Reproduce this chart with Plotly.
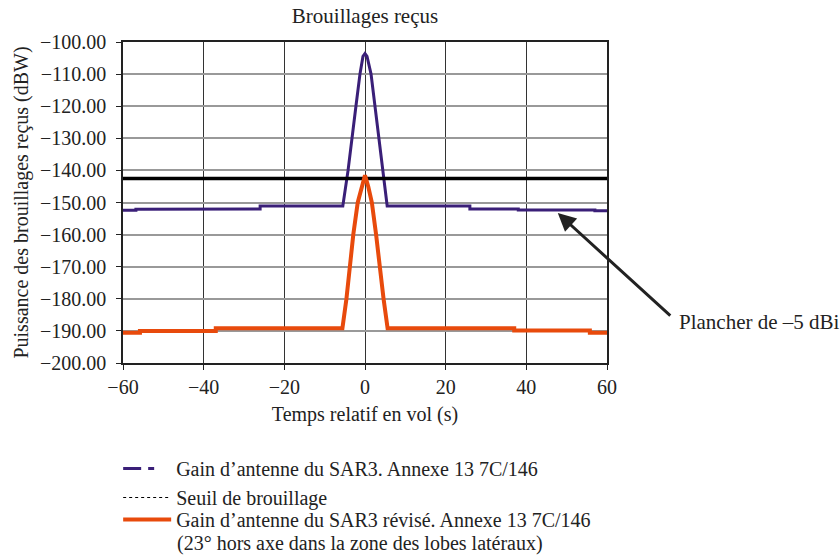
import plotly.graph_objects as go

# ---- data ----
sar3_t = [-60, -56.8, -56.8, -38, -38, -26, -26, -5.5, -4.2, -3.3, -2.25, -1.25, -0.5, 0,
          0.5, 1.5, 2.5, 3.5, 4.5, 5.5, 26, 26, 38, 38, 57, 57, 60]
sar3_p = [-152.4, -152.4, -152.1, -152.1, -152.0, -152.0, -151.1, -151.1, -140, -130, -120,
          -110, -104.5, -103.6, -104.5, -110, -120, -130, -140, -151.1, -151.1, -152.0,
          -152.0, -152.3, -152.3, -152.6, -152.6]

seuil_t = [-60, 60]
seuil_p = [-142.5, -142.5]

rev_t = [-60, -55.8, -55.8, -37, -37, -5.6, -4.6, -3.75, -2.9, -1.8, -0.8, 0, 0.8, 1.7,
         2.75, 3.6, 4.6, 5.6, 37, 37, 55.75, 55.75, 60]
rev_p = [-190.6, -190.6, -190.05, -190.05, -189.2, -189.2, -180, -170, -160, -150, -145,
         -141.5, -145, -150, -160, -170, -180, -189.2, -189.2, -189.85, -189.85, -190.6, -190.6]

x_ticks = [-60, -40, -20, 0, 20, 40, 60]
y_ticks = [-200, -190, -180, -170, -160, -150, -140, -130, -120, -110, -100]

names = ["Gain d’antenne du SAR3. Annexe 13 7C/146",
         "Seuil de brouillage",
         "Gain d’antenne du SAR3 révisé. Annexe 13 7C/146"]
name3_line2 = "(23° hors axe dans la zone des lobes latéraux)"

PURPLE = "#3a1f78"
ORANGE = "#e84a0c"
FONT = "Liberation Serif, Times New Roman, serif"
INK = "#222"

fig = go.Figure()
# plotted curves
fig.add_trace(go.Scatter(x=sar3_t, y=sar3_p, mode="lines", showlegend=False,
                         line=dict(color=PURPLE, width=3)))
fig.add_trace(go.Scatter(x=seuil_t, y=seuil_p, mode="lines", showlegend=False,
                         line=dict(color="black", width=3.5)))
fig.add_trace(go.Scatter(x=rev_t, y=rev_p, mode="lines", showlegend=False,
                         line=dict(color=ORANGE, width=4)))
# legend entries
fig.add_trace(go.Scatter(x=[None], y=[None], mode="lines", name=names[0], legend="legend",
                         line=dict(color=PURPLE, width=3, dash="18px,7px,6px")))
fig.add_trace(go.Scatter(x=[None], y=[None], mode="lines", name=names[1], legend="legend",
                         line=dict(color="black", width=1, dash="dot")))
fig.add_trace(go.Scatter(x=[None], y=[None], mode="lines", name=names[2], legend="legend2",
                         line=dict(color=ORANGE, width=4)))

fig.add_annotation(x=(175 - 123) / 484, y=(363.5 - 545) / 322, xref="paper", yref="paper",
                   text=name3_line2, showarrow=False, xanchor="left", yanchor="middle",
                   font=dict(family=FONT, size=20, color=INK))

fig.add_annotation(x=47.8, y=-153.3, xref="x", yref="y", text="", showarrow=True,
                   axref="pixel", ayref="pixel", ax=114, ay=104,
                   arrowhead=2, arrowsize=1.2, arrowwidth=3, arrowcolor=INK)
fig.add_annotation(x=(677 - 123) / 484, y=(363.5 - 322) / 322, xref="paper", yref="paper",
                   text="Plancher de –5 dBi", showarrow=False, xanchor="left", yanchor="middle",
                   font=dict(family=FONT, size=21, color=INK))

legend_common = dict(x=-0.01, yref="container", xanchor="left", yanchor="top",
                     font=dict(family=FONT, size=20, color=INK), itemwidth=48,
                     tracegroupgap=0, valign="top", bgcolor="rgba(0,0,0,0)")

fig.update_layout(
    width=840, height=556,
    margin=dict(l=123, r=233, t=41.5, b=192.5, autoexpand=False),
    paper_bgcolor="white", plot_bgcolor="white",
    font=dict(family=FONT, size=20, color=INK),
    title=dict(text="Brouillages reçus", x=365 / 840,
               xanchor="center", y=1 - 16 / 556, yanchor="middle",
               font=dict(family=FONT, size=21, color=INK)),
    legend=dict(y=1 - 449 / 556, **legend_common),
    legend2=dict(y=1 - 500 / 556, **legend_common),
    showlegend=True,
)
fig.update_xaxes(range=[-60, 60], tickvals=x_ticks, ticks="outside", ticklen=5,
                 showline=True, mirror=True, linecolor=INK, linewidth=1.5,
                 showgrid=True, gridcolor="#333", gridwidth=1, zeroline=False,
                 tickcolor=INK, tickfont=dict(family=FONT, size=20, color=INK),
                 title=dict(text="Temps relatif en vol (s)", standoff=10,
                            font=dict(family=FONT, size=20, color=INK)))
fig.update_yaxes(range=[-200, -100], tickvals=y_ticks, tickformat=".2f", ticks="outside",
                 ticklen=5, showline=True, mirror=True, linecolor=INK, linewidth=1.5,
                 showgrid=True, gridcolor="#999", gridwidth=2, zeroline=False,
                 tickcolor=INK, tickfont=dict(family=FONT, size=20, color=INK),
                 ticklabelstandoff=6,
                 title=dict(text="Puissance des brouillages reçus (dBW)", standoff=6,
                            font=dict(family=FONT, size=20, color=INK)))

fig.write_html("out.html")
